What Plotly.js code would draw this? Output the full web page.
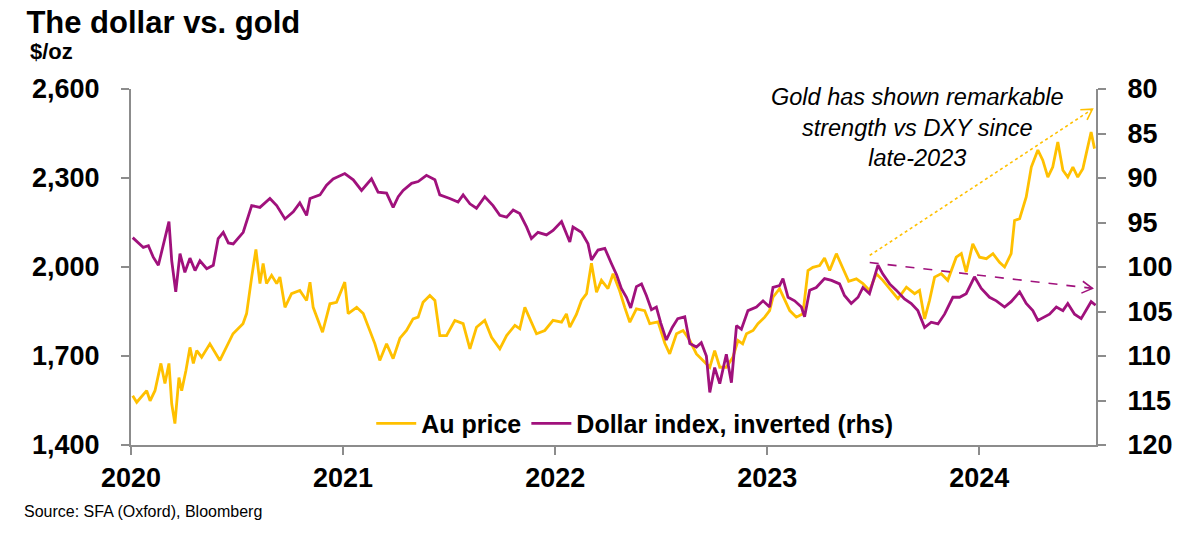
<!DOCTYPE html>
<html>
<head>
<meta charset="utf-8">
<script src="https://cdn.plot.ly/plotly-3.0.1.min.js"></script>
<style>html,body{margin:0;padding:0;background:#fff;}#chart{width:1200px;height:533px;}</style>
</head>
<body>
<div id="chart"></div>
<script>
// Gold price, $/oz (decimal-year dates)
var goldDates = [2020.008,2020.027,2020.074,2020.090,2020.113,2020.141,2020.160,2020.179,2020.192,2020.207,2020.226,2020.239,2020.259,2020.278,2020.294,2020.310,2020.333,2020.372,2020.419,2020.451,2020.481,2020.528,2020.545,2020.569,2020.589,2020.608,2020.623,2020.639,2020.663,2020.687,2020.702,2020.726,2020.757,2020.796,2020.828,2020.844,2020.859,2020.903,2020.938,2020.969,
2021.008,2021.024,2021.064,2021.095,2021.126,2021.150,2021.173,2021.205,2021.236,2021.268,2021.299,2021.330,2021.354,2021.377,2021.409,2021.433,2021.456,2021.488,2021.527,2021.566,2021.598,2021.629,2021.668,2021.700,2021.739,2021.771,2021.810,2021.833,2021.857,2021.888,2021.912,2021.951,2021.990,
2022.030,2022.053,2022.069,2022.100,2022.124,2022.148,2022.171,2022.195,2022.218,2022.249,2022.273,2022.304,2022.328,2022.352,2022.383,2022.422,2022.446,2022.485,2022.517,2022.540,2022.572,2022.603,2022.635,2022.666,2022.697,2022.729,2022.752,2022.776,2022.807,2022.838,2022.862,2022.884,2022.902,2022.933,2022.956,2022.988,
2023.011,2023.027,2023.058,2023.082,2023.106,2023.137,2023.168,2023.192,2023.215,2023.247,2023.270,2023.294,2023.326,2023.357,2023.384,2023.420,2023.451,2023.482,2023.514,2023.545,2023.577,2023.616,2023.656,2023.695,2023.718,2023.742,2023.765,2023.789,2023.820,2023.851,2023.891,2023.915,2023.938,2023.969,
2024.001,2024.033,2024.064,2024.095,2024.119,2024.150,2024.166,2024.190,2024.221,2024.245,2024.276,2024.299,2024.323,2024.346,2024.370,2024.394,2024.417,2024.441,2024.464,2024.488,2024.504,2024.527,2024.543];
var goldPrice = [1566,1544,1583,1549,1583,1675,1607,1675,1539,1472,1627,1583,1651,1729,1675,1718,1696,1741,1685,1730,1775,1809,1843,1966,2059,1944,2012,1944,1972,1944,1966,1864,1910,1921,1887,1949,1864,1780,1876,1881,
1949,1843,1864,1843,1786,1741,1685,1741,1691,1760,1786,1825,1831,1881,1904,1887,1769,1769,1820,1809,1724,1797,1820,1763,1724,1769,1803,1792,1864,1814,1775,1786,1820,
1814,1842,1797,1840,1887,1910,2013,1915,1955,1927,1977,1920,1864,1814,1859,1853,1809,1815,1743,1707,1775,1786,1752,1707,1685,1662,1718,1662,1662,1696,1752,1741,1775,1786,1809,1831,
1853,1898,1927,1887,1853,1831,1842,1988,1999,2005,2030,1988,2045,1995,1952,1960,1944,1921,1977,1955,1927,1893,1932,1910,1921,1825,1887,1966,1977,1955,2033,2045,1983,2078,
2033,2028,2045,2016,2000,2045,2157,2163,2236,2337,2394,2360,2303,2337,2421,2326,2303,2337,2303,2331,2382,2455,2399];

// Dollar index (DXY)
var dxyDates = [2020.008,2020.058,2020.082,2020.105,2020.129,2020.152,2020.179,2020.192,2020.211,2020.231,2020.254,2020.278,2020.302,2020.325,2020.357,2020.388,2020.411,2020.435,2020.459,2020.482,2020.529,2020.569,2020.608,2020.655,2020.687,2020.726,2020.765,2020.796,2020.828,2020.844,2020.891,2020.922,2020.953,
2021.008,2021.048,2021.087,2021.134,2021.165,2021.205,2021.236,2021.260,2021.283,2021.323,2021.354,2021.393,2021.433,2021.456,2021.503,2021.542,2021.566,2021.598,2021.629,2021.668,2021.707,2021.739,2021.771,2021.802,2021.833,2021.865,2021.888,2021.919,2021.959,2021.990,
2022.030,2022.069,2022.084,2022.124,2022.155,2022.171,2022.202,2022.234,2022.265,2022.290,2022.312,2022.336,2022.356,2022.383,2022.407,2022.430,2022.454,2022.477,2022.498,2022.524,2022.552,2022.578,2022.611,2022.635,2022.666,2022.689,2022.713,2022.729,2022.752,2022.776,2022.807,2022.831,2022.855,2022.878,2022.909,2022.949,2022.980,
2023.011,2023.027,2023.058,2023.074,2023.098,2023.129,2023.161,2023.176,2023.200,2023.231,2023.247,2023.270,2023.303,2023.341,2023.364,2023.396,2023.428,2023.451,2023.482,2023.522,2023.545,2023.577,2023.608,2023.647,2023.679,2023.710,2023.742,2023.773,2023.805,2023.836,2023.875,2023.907,2023.938,2023.977,
2024.009,2024.048,2024.080,2024.119,2024.150,2024.190,2024.221,2024.252,2024.276,2024.307,2024.331,2024.363,2024.394,2024.417,2024.449,2024.480,2024.504,2024.527,2024.548];
var dxyValue = [96.7,97.8,97.6,98.9,99.8,97.4,94.9,99.3,102.8,98.5,100.6,99.0,100.4,99.3,100.2,99.8,96.8,96.1,97.3,97.4,96.1,93.1,93.3,92.3,93.1,94.6,93.8,92.8,94.2,92.3,91.9,90.8,90.1,
89.5,90.2,91.4,90.1,91.6,91.7,93.3,92.1,91.4,90.6,90.4,89.7,90.2,91.9,92.3,92.7,91.9,92.9,93.4,92.1,93.1,94.2,94.4,93.6,94.0,95.5,96.8,96.1,96.4,95.9,
94.9,97.2,95.5,96.1,97.4,99.2,98.1,97.9,99.6,100.9,102.4,103.4,104.6,102.2,101.9,103.2,104.8,104.5,106.3,108.2,106.8,105.8,105.6,108.6,109.0,108.5,110.0,114.1,111.3,113.1,109.8,113.0,106.6,107.0,104.9,104.5,103.8,
104.5,102.3,102.1,101.3,103.4,103.8,104.5,105.6,102.6,102.3,101.9,101.3,101.5,101.9,103.2,104.1,103.4,102.3,103.0,99.8,100.8,101.9,102.6,103.6,104.1,104.9,106.8,106.2,106.4,105.3,103.4,103.4,103.0,101.1,
102.4,103.4,103.8,104.5,103.9,102.8,104.1,104.9,106.0,105.6,105.3,104.5,104.9,104.1,105.3,105.8,104.9,103.9,104.3];

var yearTicks = [2020, 2021, 2022, 2023, 2024];
var yearLabels = ['2020', '2021', '2022', '2023', '2024'];
var goldTicks = [1400, 1700, 2000, 2300, 2600];
var goldLabels = ['1,400', '1,700', '2,000', '2,300', '2,600'];
var dxyTicks = [80, 85, 90, 95, 100, 105, 110, 115, 120];

var GOLD = '#FFC000';
var PURPLE = '#A0117C';
var AXIS = '#8c8c8c';
var FONT = 'Liberation Sans, Arial, sans-serif';
var NARROW = 'Liberation Sans Narrow, Arial Narrow, sans-serif';

var traces = [
  {x: goldDates, y: goldPrice, type: 'scatter', mode: 'lines', name: 'Au price',
   line: {color: GOLD, width: 2.8}, yaxis: 'y'},
  {x: dxyDates, y: dxyValue, type: 'scatter', mode: 'lines', name: 'Dollar index, inverted (rhs)',
   line: {color: PURPLE, width: 2.8}, yaxis: 'y2'}
];

var tickFont = {family: FONT, size: 27, color: '#000', weight: 'bold'};

var layout = {
  width: 1200, height: 533,
  margin: {l: 131, r: 104, t: 89, b: 88},
  paper_bgcolor: '#fff', plot_bgcolor: '#fff',
  showlegend: true,
  legend: {orientation: 'h', x: 0.522, xanchor: 'center', y: 0.06, yanchor: 'middle',
           font: {family: FONT, size: 25, color: '#000', weight: 'bold'},
           bgcolor: 'rgba(0,0,0,0)', itemwidth: 40, tracegroupgap: 0},
  title: {text: 'The dollar vs. gold', x: 0.022, xanchor: 'left', xref: 'container',
          y: 0.958, yanchor: 'middle', yref: 'container',
          font: {family: FONT, size: 31, color: '#000', weight: 'bold'}},
  xaxis: {range: [2020, 2024.55], tickvals: yearTicks, ticktext: yearLabels,
          showgrid: false, zeroline: false, showline: true, linecolor: AXIS, linewidth: 2,
          ticks: 'outside', ticklen: 8, tickwidth: 2, tickcolor: AXIS,
          tickfont: tickFont},
  yaxis: {range: [1400, 2600], tickvals: goldTicks, ticktext: goldLabels,
          showgrid: false, zeroline: false, showline: true, linecolor: AXIS, linewidth: 2,
          ticks: 'outside', ticklen: 8, tickwidth: 2, tickcolor: AXIS,
          ticklabelstandoff: 16, tickfont: tickFont},
  yaxis2: {range: [120, 80], tickvals: dxyTicks, overlaying: 'y', side: 'right',
           showgrid: false, zeroline: false, showline: true, linecolor: AXIS, linewidth: 2,
           ticks: 'outside', ticklen: 8, tickwidth: 2, tickcolor: AXIS,
           ticklabelstandoff: 16, tickfont: tickFont},
  shapes: [
    {type: 'line', xref: 'x', yref: 'y', x0: 2023.483, y0: 2039, x1: 2024.533, y1: 2532,
     line: {color: GOLD, width: 1.6, dash: 'dot'}, layer: 'above'},
    {type: 'path', xref: 'x', yref: 'y', path: 'M 2024.476,2530 L 2024.533,2532 L 2024.508,2496',
     line: {color: GOLD, width: 1.6}, layer: 'above'},
    {type: 'line', xref: 'x', yref: 'y', x0: 2023.483, y0: 2015, x1: 2024.533, y1: 1928,
     line: {color: PURPLE, width: 1.6, dash: 'dash'}, layer: 'above'},
    {type: 'path', xref: 'x', yref: 'y', path: 'M 2024.488,1952 L 2024.533,1928 L 2024.481,1912',
     line: {color: PURPLE, width: 1.6}, layer: 'above'}
  ],
  annotations: [
    {text: '$/oz', xref: 'paper', yref: 'paper', x: -0.1067, y: 1.104, xanchor: 'left', yanchor: 'middle',
     showarrow: false, font: {family: FONT, size: 22, color: '#000', weight: 'bold'}},
    {text: 'Gold has shown remarkable<br>strength vs DXY since<br>late-2023', xref: 'paper', yref: 'paper',
     x: 0.8155, y: 0.892, xanchor: 'center', yanchor: 'middle', align: 'center', showarrow: false,
     font: {family: FONT, size: 23.5, color: '#000', style: 'italic'}},
    {text: 'Source: SFA (Oxford), Bloomberg', xref: 'paper', yref: 'paper', x: -0.113, y: -0.188,
     xanchor: 'left', yanchor: 'middle', showarrow: false,
     font: {family: NARROW, size: 16, color: '#000'}}
  ],
  hovermode: false
};

Plotly.newPlot('chart', traces, layout, {displayModeBar: false, staticPlot: true});
</script>
</body>
</html>
